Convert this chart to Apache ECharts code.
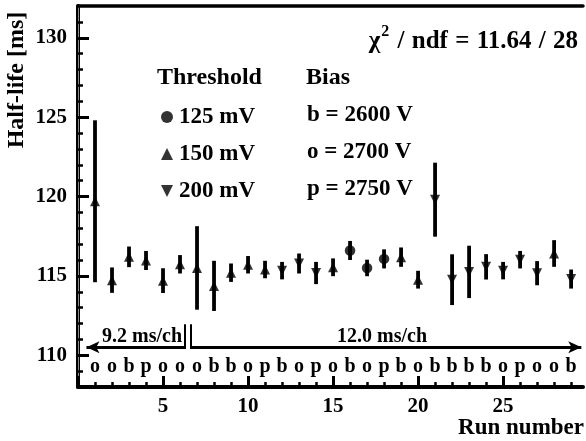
<!DOCTYPE html>
<html><head><meta charset="utf-8">
<script src="https://cdn.jsdelivr.net/npm/echarts@6/dist/echarts.min.js"></script>
<style>html,body{margin:0;padding:0;background:#fff}#c{width:586px;height:441px}</style>
</head><body><div id="c"></div>
<script>
// ---- data ----
const runs = [1,2,3,4,5,6,7,8,9,10,11,12,13,14,15,16,17,18,19,20,21,22,23,24,25,26,27,28,29];
const halfLife = [119.7,114.73,116.2,115.97,114.7,115.73,115.5,114.37,115.2,115.7,115.4,115.33,115.78,115.18,115.54,116.6,115.5,116.07,116.18,114.76,119.8,114.76,115.25,115.57,115.33,116.02,115.17,116.41,114.8];
const halfLifeErr = [5.1,0.8,0.65,0.6,0.78,0.58,2.63,1.58,0.58,0.55,0.55,0.55,0.63,0.7,0.56,0.6,0.52,0.6,0.61,0.56,2.33,1.6,1.65,0.8,0.55,0.55,0.76,0.84,0.6];
const thresholdMv = [150,150,150,150,150,150,150,150,150,150,150,200,200,200,150,125,125,125,150,150,200,200,200,200,200,200,200,150,200];
const biasCode = ['o','o','b','p','o','o','o','b','b','o','p','b','o','p','o','b','o','p','b','o','b','b','b','b','o','p','o','o','b'];
const thresholdNames = ['125 mV','150 mV','200 mV'];
const thresholdValues = [125,150,200];
const biasLegend = ['b = 2600 V','o = 2700 V','p = 2750 V'];
const xTickLabels = [5,10,15,20,25];
const xMajorTicks = [0,5,10,15,20,25];
const xMinorTicks = [1,2,3,4,6,7,8,9,11,12,13,14,16,17,18,19,21,22,23,24,26,27,28,29];
const yTickLabels = [110,115,120,125,130];
const yMinorTicks = [108,109,111,112,113,114,116,117,118,119,121,122,123,124,126,127,128,129,131];

const FONT = '"Liberation Serif","Times New Roman",serif';
const LETTER_ROW_Y = 109.25;
const ARROW_Y = 110.5;
const DOWN_TRI = 'path://M0,0L10,0L5,10Z';
const UP_TRI = 'path://M5,0L10,10L0,10Z';

const chart = echarts.init(document.getElementById('c'));

function pointsFor(mv){
  const out = [];
  runs.forEach((r,i)=>{ if(thresholdMv[i]===mv) out.push([r, halfLife[i]]); });
  return out;
}
const symbols = {125:['circle',10.5],150:[UP_TRI,10],200:[DOWN_TRI,10]};

const markerSeries = thresholdValues.map((mv,k)=>({
  name: thresholdNames[k], type:'scatter', xAxisIndex:0, yAxisIndex:0,
  symbol: symbols[mv][0], symbolSize: symbols[mv][1],
  itemStyle:{color:'#000'}, data: pointsFor(mv), z:5, silent:true
}));

const axisText = {fontFamily:FONT, fontWeight:'bold', fontSize:21, color:'#000'};
const B = (s)=>'bold '+s+'px '+FONT;

const option = {
  animation:false,
  grid:{left:78, right:3, top:6, bottom:54},
  xAxis:[
    {type:'value', min:0, max:29.7, position:'bottom',
     axisLine:{lineStyle:{color:'#000', width:4}},
     axisTick:{show:true, inside:true, length:11, customValues:xMajorTicks, lineStyle:{color:'#000', width:3}},
     axisLabel:{customValues:xTickLabels, margin:9, ...axisText},
     splitLine:{show:false}},
    {type:'value', min:0, max:29.7, position:'bottom',
     axisLine:{show:false},
     axisTick:{show:true, inside:true, length:5, customValues:xMinorTicks, lineStyle:{color:'#000', width:2.5}},
     axisLabel:{show:false}, splitLine:{show:false}},
    {type:'value', min:0, max:29.7, position:'top',
     axisLine:{lineStyle:{color:'#000', width:3.5}},
     axisTick:{show:false}, axisLabel:{show:false}, splitLine:{show:false}}
  ],
  yAxis:[
    {type:'value', min:108, max:132, position:'left',
     axisLine:{show:true, lineStyle:{color:'#000', width:4}},
     axisTick:{show:true, inside:true, length:11, customValues:yTickLabels, lineStyle:{color:'#000', width:3}},
     axisLabel:{customValues:yTickLabels, margin:11, ...axisText},
     splitLine:{show:false}},
    {type:'value', min:108, max:132, position:'left',
     axisLine:{show:false},
     axisTick:{show:true, inside:true, length:5, customValues:yMinorTicks, lineStyle:{color:'#000', width:2.5}},
     axisLabel:{show:false}, splitLine:{show:false}},
    {type:'value', min:108, max:132, position:'right',
     axisLine:{show:true, lineStyle:{color:'#888', width:1}},
     axisTick:{show:false}, axisLabel:{show:false}, splitLine:{show:false}}
  ],
  legend:{
    data: [
      {name:thresholdNames[0], icon:'circle'},
      {name:thresholdNames[1], icon:UP_TRI},
      {name:thresholdNames[2], icon:DOWN_TRI}
    ],
    orient:'vertical', left:156, top:100,
    itemWidth:12, itemHeight:12, itemGap:13, selectedMode:false,
    textStyle:{fontFamily:FONT, fontWeight:'bold', fontSize:23, lineHeight:24, color:'#000', padding:[0,0,0,1]}
  },
  series:[
    {type:'custom', name:'err', xAxisIndex:0, yAxisIndex:0, silent:true, z:3,
     data: runs.map((r,i)=>[r, halfLife[i], halfLifeErr[i]]),
     encode:{x:0, y:1},
     renderItem:(params, api)=>{
       const x = api.value(0), y = api.value(1), e = api.value(2);
       const t = api.coord([x, y+e]), b = api.coord([x, y-e]);
       return {type:'rect', shape:{x:t[0]-1.9, y:t[1], width:3.8, height:b[1]-t[1]}, style:{fill:'#000'}};
     }},
    ...markerSeries,
    {type:'custom', name:'bias', xAxisIndex:0, yAxisIndex:0, silent:true, z:4,
     data: runs.map((r,i)=>[r, halfLife[i]]),
     encode:{x:0, y:1},
     renderItem:(params, api)=>{
       const p = api.coord([api.value(0), LETTER_ROW_Y]);
       return {type:'text', x:p[0], y:p[1], style:{text: biasCode[params.dataIndex], fill:'#000',
         font:B(20), align:'center', verticalAlign:'middle'}};
     },
     markLine:{silent:true, animation:false, symbolSize:[9,13], label:{show:false},
       lineStyle:{color:'#000', width:3, type:'solid'}, emphasis:{disabled:true},
       data:[
         [{coord:[0.5, ARROW_Y], symbol:'arrow'}, {coord:[6.25, ARROW_Y], symbol:'none'}],
         [{coord:[6.65, ARROW_Y], symbol:'none'}, {coord:[29.6, ARROW_Y], symbol:'arrow'}],
         [{coord:[6.25, 110.4], symbol:'none', lineStyle:{width:2}}, {coord:[6.25, 111.95], symbol:'none'}],
         [{coord:[6.65, 110.4], symbol:'none', lineStyle:{width:2}}, {coord:[6.65, 111.95], symbol:'none'}]
       ]}
    }
  ],
  graphic:[
    {type:'text', x:17, y:80, rotation:Math.PI/2, style:{text:'Half-life [ms]', font:B(24), fill:'#000', align:'center', verticalAlign:'middle'}},
    {type:'text', x:584, y:428, style:{text:'Run number', font:B(23), fill:'#000', align:'right', verticalAlign:'middle'}},
    {type:'text', x:578, y:39, style:{text:'{g|χ}{s|2}{g| }{p|/}{g| ndf }{p|=}{g| 11.64 }{p|/}{g| 28}', fill:'#000', align:'right', verticalAlign:'middle',
      rich:{g:{font:B(25), fill:'#000', verticalAlign:'bottom'},
            p:{font:B(25), fill:'#000', verticalAlign:'bottom', padding:[0,1,0,1]},
            s:{font:B(16), fill:'#000', verticalAlign:'top', padding:[0,1,15,1]}}}},
    {type:'text', x:157, y:78, style:{text:'Threshold', font:B(24), fill:'#000', align:'left', verticalAlign:'middle'}},
    {type:'text', x:306, y:78, style:{text:'Bias', font:B(24), fill:'#000', align:'left', verticalAlign:'middle'}},
    {type:'text', x:307, y:115, style:{text:biasLegend[0], font:B(23), fill:'#000', align:'left', verticalAlign:'middle'}},
    {type:'text', x:307, y:152, style:{text:biasLegend[1], font:B(23), fill:'#000', align:'left', verticalAlign:'middle'}},
    {type:'text', x:307, y:189, style:{text:biasLegend[2], font:B(23), fill:'#000', align:'left', verticalAlign:'middle'}},
    {type:'text', x:142, y:337, style:{text:'9.2 ms/ch', font:B(20), fill:'#000', align:'center', verticalAlign:'middle'}},
    {type:'text', x:382, y:337, style:{text:'12.0 ms/ch', font:B(20), fill:'#000', align:'center', verticalAlign:'middle'}}
  ]
};
chart.setOption(option);
</script></body></html>
